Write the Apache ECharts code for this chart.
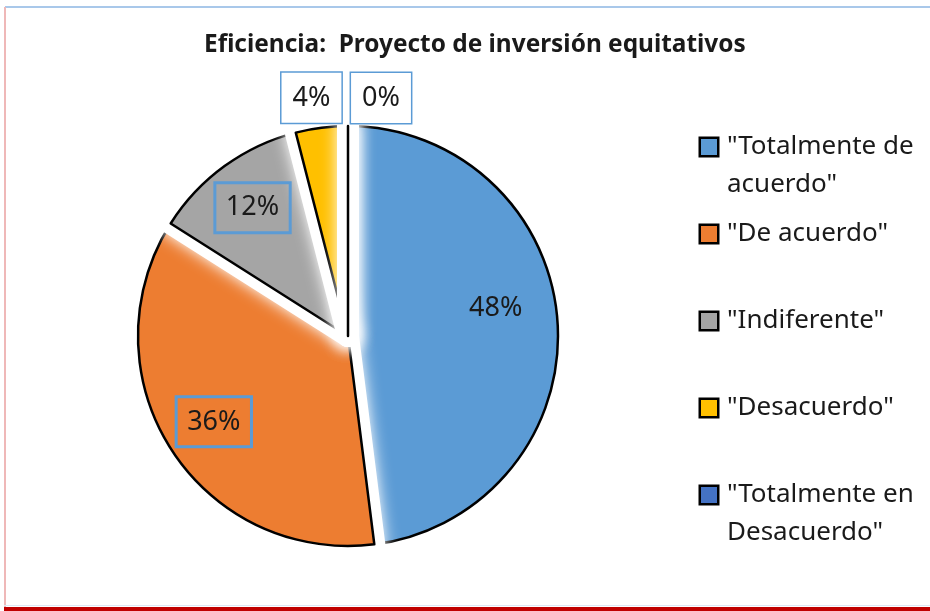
<!DOCTYPE html>
<html>
<head>
<meta charset="utf-8">
<title>Eficiencia: Proyecto de inversión equitativos</title>
<script src="https://cdn.jsdelivr.net/npm/echarts@6/dist/echarts.min.js"></script>
<style>
  html, body { margin: 0; padding: 0; background: #fff; }
  #chart { width: 930px; height: 611px; }
</style>
</head>
<body>
<div id="chart"></div>
<script>
// Survey answers and their share of responses (%)
const categories = ['"Totalmente de acuerdo"', '"De acuerdo"', '"Indiferente"', '"Desacuerdo"', '"Totalmente en Desacuerdo"'];
const shares = [48, 36, 12, 4, 0];
// Legend text, wrapped the way it is printed beside the pie
const legendLines = [['"Totalmente de', 'acuerdo"'], ['"De acuerdo"'], ['"Indiferente"'], ['"Desacuerdo"'], ['"Totalmente en', 'Desacuerdo"']];

const sliceColors = ['#5b9bd5', '#ed7d31', '#a5a5a5', '#ffc000', '#4472c4'];
// Nudges (px) of each value label away from its default inside anchor
const labelShift = [[40, -21], [-43, 28], [-32, -41], [-23, -131], [33, -130]];
const boxedLabel = [false, true, true, true, true];
const outsideLabel = [false, false, false, true, true];

const FONT = 'Noto Sans';
const INK = '#1a1a1a';
const CENTER = [348, 336];
const RADIUS = 210;

const legendRich = {
  g: { width: 10, lineHeight: 38 },
  s: { width: 26, lineHeight: 38 },
  t: { fontFamily: FONT, fontSize: 26, color: INK, lineHeight: 38 }
};
sliceColors.forEach((c, i) => {
  legendRich['m' + i] = { width: 16, height: 16, backgroundColor: c, borderColor: '#000', borderWidth: 2.5 };
});

function legendText(name) {
  const i = categories.indexOf(name);
  const lines = legendLines[i];
  const first = '{m' + i + '|}{g|}{t|' + lines[0] + '}';
  const second = lines.length > 1 ? '{s|}{t|' + lines[1] + '}' : '{s|}';
  return first + '\n' + second;
}

const hidden = { color: 'transparent', borderWidth: 0, shadowBlur: 0 };
const glowStyle = { color: '#fff', borderColor: '#fff', borderWidth: 22, borderJoin: 'round', shadowColor: '#fff', shadowBlur: 16 };

// Each slice is painted as a white halo followed by its coloured sector, in
// slice order, so every halo washes over the edge of the slice before it.
function pieLayer(kind, k, withLabels) {
  return {
    type: 'pie',
    name: kind + k,
    center: CENTER,
    radius: RADIUS,
    startAngle: 90,
    clockwise: true,
    silent: true,
    avoidLabelOverlap: false,
    emphasis: { disabled: true },
    labelLine: { show: false },
    label: withLabels ? {
      show: true,
      position: 'inside',
      formatter: '{c}%',
      fontFamily: FONT,
      fontSize: 27,
      color: INK,
      textBorderWidth: 0,
      lineHeight: 36,
      padding: [7, 11]
    } : { show: false },
    labelLayout: withLabels ? (p) => ({ dx: labelShift[p.dataIndex][0], dy: labelShift[p.dataIndex][1] }) : null,
    data: categories.map((name, i) => {
      let style = hidden;
      if (i === k) {
        style = kind === 'glow' ? glowStyle : { color: sliceColors[i], borderColor: '#000', borderWidth: 2.5, borderJoin: 'round' };
      }
      const item = { name: name, value: shares[i], itemStyle: style };
      if (withLabels) {
        item.label = {
          borderColor: boxedLabel[i] ? '#5b9bd5' : 'transparent',
          borderWidth: boxedLabel[i] ? 1.5 : 0,
          backgroundColor: outsideLabel[i] ? '#fff' : 'transparent'
        };
      }
      return item;
    })
  };
}

const series = [];
shares.forEach((v, k) => {
  series.push(pieLayer('glow', k, false));
  series.push(pieLayer('slice', k, k === shares.length - 1));
});

const chart = echarts.init(document.getElementById('chart'), null, { renderer: 'canvas' });

chart.setOption({
  animation: false,
  backgroundColor: '#fff',
  title: {
    text: 'Eficiencia:  Proyecto de inversión equitativos',
    left: 204,
    top: 33,
    padding: 0,
    textStyle: { fontFamily: FONT, fontWeight: 'bold', fontSize: 24.4, color: INK }
  },
  legend: {
    orient: 'vertical',
    left: 696,
    top: 128,
    padding: 0,
    itemGap: 11,
    itemWidth: 0,
    itemHeight: 0,
    icon: 'none',
    selectedMode: false,
    data: categories,
    formatter: legendText,
    textStyle: { fontFamily: FONT, fontSize: 26, color: INK, lineHeight: 38, rich: legendRich }
  },
  graphic: [
    { type: 'rect', silent: true, shape: { x: 5, y: 6, width: 925, height: 2 }, style: { fill: '#a9c8ea' } },
    { type: 'rect', silent: true, shape: { x: 4, y: 7, width: 2, height: 600 }, style: { fill: '#efb8b8' } },
    { type: 'rect', silent: true, shape: { x: 4, y: 605, width: 926, height: 1 }, style: { fill: '#dde8f4' } },
    { type: 'rect', silent: true, shape: { x: 4, y: 607, width: 926, height: 4 }, style: { fill: '#c00000' } }
  ],
  series: series
});
</script>
</body>
</html>
